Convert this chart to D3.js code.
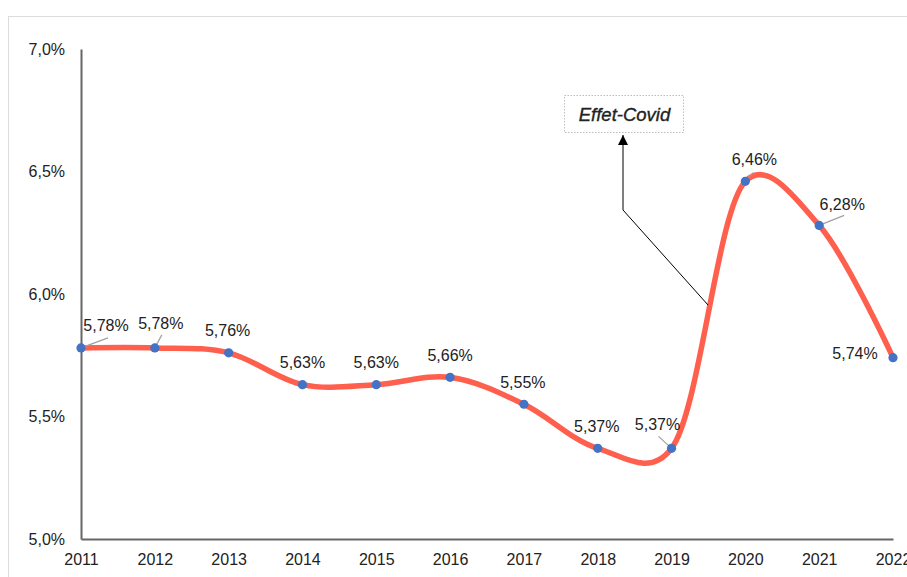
<!DOCTYPE html>
<html>
<head>
<meta charset="utf-8">
<script src="https://cdn.jsdelivr.net/npm/d3@7"></script>
<style>
  body { margin: 0; background: #fff; }
  svg { display: block; font-family: "Liberation Sans", Arial, Helvetica, sans-serif; }
</style>
</head>
<body>
<svg id="chart" width="907" height="577"></svg>
<script>
// data
const years = ['2011', '2012', '2013', '2014', '2015', '2016', '2017', '2018', '2019', '2020', '2021', '2022'];
const rates = [5.78, 5.78, 5.76, 5.63, 5.63, 5.66, 5.55, 5.37, 5.37, 6.46, 6.28, 5.74];
const yTicks = [5.0, 5.5, 6.0, 6.5, 7.0];
const annotationText = 'Effet-Covid';

// label offsets relative to point (dx, dy) and optional leader line end
const labelOffsets = [
  { dx: 25, dy: -23, leader: [27, -10] },
  { dx: 6, dy: -25, leader: [7, -13] },
  { dx: -1, dy: -22 },
  { dx: 0, dy: -22 },
  { dx: 0, dy: -22 },
  { dx: 0, dy: -22 },
  { dx: -1, dy: -22 },
  { dx: -1, dy: -22 },
  { dx: -14, dy: -24, leader: [-13, -12] },
  { dx: 9, dy: -22, leader: [8, -9] },
  { dx: 23, dy: -21, leader: [25, -10] },
  { dx: -38, dy: -4 }
];

const svg = d3.select('#chart');
const W = 907, H = 577;
const m = { left: 81, right: 14, top: 49, bottom: 38 };

const x = d3.scalePoint().domain(years).range([m.left, W - m.right]);
const y = d3.scaleLinear().domain([5.0, 7.0]).range([H - m.bottom, m.top]);
const fmt = v => d3.format('.2f')(v).replace('.', ',') + '%';

// outer frame
svg.append('rect')
  .attr('x', 8.5).attr('y', 16.5)
  .attr('width', W + 10).attr('height', H)
  .attr('fill', 'none').attr('stroke', '#dcdcdc');

// y axis
const yAxis = svg.append('g')
  .attr('transform', `translate(${m.left},0)`)
  .call(d3.axisLeft(y).tickValues(yTicks).tickSize(0).tickPadding(16)
    .tickFormat(d => d3.format('.1f')(d).replace('.', ',') + '%'));
yAxis.select('.domain').attr('stroke', '#666').attr('stroke-width', 2);
yAxis.selectAll('text').attr('font-size', 16).attr('fill', '#222')
  .attr('font-family', '"Liberation Sans", Arial, sans-serif');

// x axis
const xAxis = svg.append('g')
  .attr('transform', `translate(0,${H - m.bottom})`)
  .call(d3.axisBottom(x).tickSize(0).tickPadding(15));
xAxis.select('.domain').attr('stroke', '#666').attr('stroke-width', 2);
xAxis.selectAll('text').attr('font-size', 16).attr('fill', '#222')
  .attr('font-family', '"Liberation Sans", Arial, sans-serif');

// smoothed line
const pts = years.map((yr, i) => ({ yr, v: rates[i] }));
const line = d3.line()
  .x(d => x(d.yr)).y(d => y(d.v))
  .curve(d3.curveCatmullRom.alpha(0.2));

svg.append('path')
  .datum(pts)
  .attr('d', line)
  .attr('fill', 'none')
  .attr('stroke', '#ff5f4d')
  .attr('stroke-width', 5.5)
  .attr('stroke-linecap', 'round');

// leader lines
svg.append('g').selectAll('line')
  .data(pts.filter((d, i) => labelOffsets[i].leader))
  .join('line')
  .attr('x1', d => x(d.yr)).attr('y1', d => y(d.v))
  .attr('x2', d => x(d.yr) + labelOffsets[years.indexOf(d.yr)].leader[0])
  .attr('y2', d => y(d.v) + labelOffsets[years.indexOf(d.yr)].leader[1])
  .attr('stroke', '#a0a0a0').attr('stroke-width', 1.2);

// markers
svg.append('g').selectAll('circle')
  .data(pts)
  .join('circle')
  .attr('cx', d => x(d.yr)).attr('cy', d => y(d.v))
  .attr('r', 4.6)
  .attr('fill', '#4472c4');

// data labels
svg.append('g').selectAll('text')
  .data(pts)
  .join('text')
  .attr('x', (d, i) => x(d.yr) + labelOffsets[i].dx)
  .attr('y', (d, i) => y(d.v) + labelOffsets[i].dy)
  .attr('dy', '0.35em')
  .attr('text-anchor', 'middle')
  .attr('font-size', 16)
  .attr('fill', '#222')
  .text(d => fmt(d.v));

// annotation
const ann = svg.append('g');
ann.append('defs').append('marker')
  .attr('id', 'arrow')
  .attr('viewBox', '0 0 10 10')
  .attr('refX', 10).attr('refY', 5)
  .attr('markerWidth', 10).attr('markerHeight', 10)
  .attr('markerUnits', 'userSpaceOnUse')
  .attr('orient', 'auto')
  .append('path').attr('d', 'M0,0 L10,5 L0,10 z').attr('fill', '#000');

const boxX = 564, boxY = 95, boxW = 119, boxH = 37;
ann.append('rect')
  .attr('x', boxX + 0.5).attr('y', boxY + 0.5)
  .attr('width', boxW).attr('height', boxH)
  .attr('fill', '#fff')
  .attr('stroke', '#bdbdbd').attr('stroke-dasharray', '1.5,1.5');
ann.append('text')
  .attr('x', boxX + boxW / 2 + 1).attr('y', boxY + boxH / 2 + 1)
  .attr('dy', '0.35em').attr('text-anchor', 'middle')
  .attr('font-size', 18.5).attr('font-style', 'italic')
  .attr('fill', '#222').attr('stroke', '#222').attr('stroke-width', 0.35)
  .text(annotationText);

const elbowX = boxX + 59, elbowY = 210;
ann.append('path')
  .attr('d', `M708,305 L${elbowX},${elbowY} L${elbowX},${boxY + boxH + 3}`)
  .attr('fill', 'none').attr('stroke', '#000').attr('stroke-width', 1)
  .attr('marker-end', 'url(#arrow)');
</script>
</body>
</html>
